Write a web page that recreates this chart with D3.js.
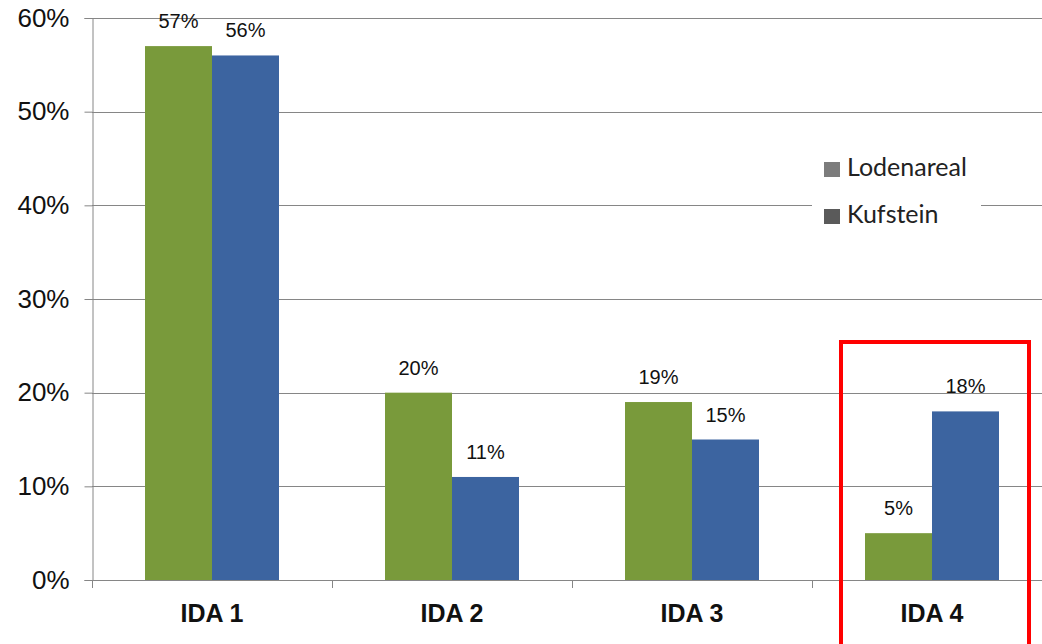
<!DOCTYPE html>
<html>
<head>
<meta charset="utf-8">
<script src="https://cdn.jsdelivr.net/npm/d3@7"></script>
<style>
  html, body { margin: 0; padding: 0; background: #fff; }
  svg { display: block; }
</style>
</head>
<body>
<svg id="chart" width="1042" height="644"></svg>
<script>
// Share of respondents per IDA group, two survey areas
const categories = ["IDA 1", "IDA 2", "IDA 3", "IDA 4"];
const seriesNames = ["Lodenareal", "Kufstein"];
const lodenareal = [0.57, 0.20, 0.19, 0.05];
const kufstein = [0.56, 0.11, 0.15, 0.18];
const yTicks = [0, 0.1, 0.2, 0.3, 0.4, 0.5, 0.6];
const highlighted = "IDA 4";

const seriesValues = [lodenareal, kufstein];
const barColors = ["#799a3b", "#3c64a0"];
const legendColors = ["#7c7c7c", "#5a5a5a"];

const W = 1042, H = 644;
const plotLeft = 92, plotTop = 18, plotBottom = 580, catWidth = 240;
const sans = "Liberation Sans, Arial, sans-serif";

const svg = d3.select("#chart");

const x = d3.scaleBand()
  .domain(categories)
  .range([plotLeft, plotLeft + catWidth * categories.length])
  .padding(0);

const xs = d3.scaleBand()
  .domain(seriesNames)
  .range([53, catWidth - 53])
  .padding(0);

const y = d3.scaleLinear().domain([0, 0.6]).range([plotBottom, plotTop]);

// horizontal gridlines
svg.append("g")
  .selectAll("line")
  .data(yTicks.slice(1))
  .join("line")
  .attr("x1", plotLeft).attr("x2", W)
  .attr("y1", d => Math.round(y(d)) + 0.5)
  .attr("y2", d => Math.round(y(d)) + 0.5)
  .attr("stroke", "#868686")
  .attr("stroke-width", 1);

// bars
const rows = categories.map((c, i) => ({ cat: c, vals: seriesNames.map((s, j) => ({ s, j, v: seriesValues[j][i] })) }));

const groups = svg.append("g")
  .selectAll("g")
  .data(rows)
  .join("g")
  .attr("transform", d => `translate(${x(d.cat)},0)`);

groups.selectAll("rect")
  .data(d => d.vals)
  .join("rect")
  .attr("x", d => xs(d.s))
  .attr("width", xs.bandwidth())
  .attr("y", d => y(d.v))
  .attr("height", d => y(0) - y(d.v))
  .attr("fill", d => barColors[d.j]);

groups.selectAll("text")
  .data(d => d.vals)
  .join("text")
  .attr("x", d => xs(d.s) + xs.bandwidth() / 2)
  .attr("y", d => y(d.v) - 18)
  .attr("text-anchor", "middle")
  .attr("font-family", sans)
  .attr("font-size", 20)
  .attr("fill", "#111")
  .text(d => d3.format(".0%")(d.v));

// y axis
const yAxis = d3.axisLeft(y)
  .tickValues(yTicks)
  .tickFormat(d3.format(".0%"))
  .tickSize(8)
  .tickPadding(15);

const gy = svg.append("g")
  .attr("transform", `translate(${plotLeft + 0.5},0)`)
  .call(yAxis);
gy.select(".domain").attr("stroke", "#868686");
gy.selectAll(".tick line").attr("stroke", "#868686");
gy.selectAll(".tick text")
  .attr("font-family", sans)
  .attr("font-size", 26)
  .attr("fill", "#111");

// x axis
const xAxis = d3.axisBottom(x).tickSize(0).tickPadding(0);
const gx = svg.append("g")
  .attr("transform", `translate(0,${plotBottom + 0.5})`)
  .call(xAxis);
gx.select(".domain").attr("stroke", "#868686").attr("d", `M${plotLeft},0H${W}`);
gx.selectAll(".tick text")
  .attr("y", 41)
  .attr("dy", null)
  .attr("font-family", sans)
  .attr("font-size", 25)
  .attr("font-weight", "bold")
  .attr("fill", "#111");

// category separators on the x axis
svg.append("g")
  .selectAll("line")
  .data(categories)
  .join("line")
  .attr("x1", d => x(d) + 0.5).attr("x2", d => x(d) + 0.5)
  .attr("y1", plotBottom).attr("y2", plotBottom + 8)
  .attr("stroke", "#868686");

// legend
const legend = svg.append("g").attr("transform", "translate(812,142)");
legend.append("rect")
  .attr("width", 169).attr("height", 96)
  .attr("fill", "#fff");
seriesNames.forEach((s, i) => {
  const g = legend.append("g").attr("transform", `translate(0,${i * 47})`);
  g.append("rect")
    .attr("x", 12).attr("y", 20)
    .attr("width", 16).attr("height", 15)
    .attr("fill", legendColors[i]);
  g.append("text")
    .attr("x", 35).attr("y", 34)
    .attr("font-family", "Lato, Open Sans, sans-serif")
    .attr("font-size", 25)
    .attr("fill", "#222")
    .text(s);
});

// highlight frame around one category
const hx = x(highlighted);
svg.append("rect")
  .attr("x", hx + 29)
  .attr("y", 342)
  .attr("width", 188)
  .attr("height", 320)
  .attr("fill", "none")
  .attr("stroke", "#ff0000")
  .attr("stroke-width", 4);
</script>
</body>
</html>
